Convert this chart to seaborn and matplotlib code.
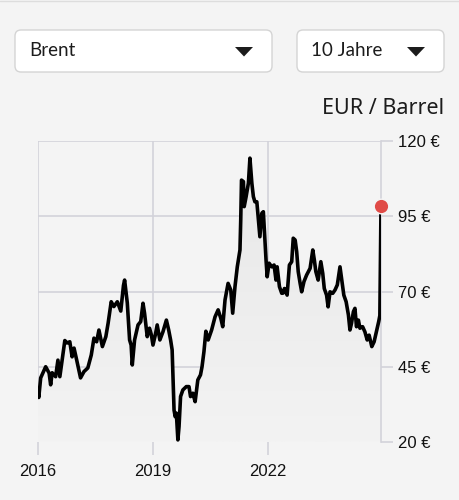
import numpy as np
import pandas as pd
import matplotlib
matplotlib.use("Agg")
import matplotlib.pyplot as plt
import seaborn as sns
from matplotlib.patches import FancyBboxPatch, Polygon
from matplotlib.colors import LinearSegmentedColormap

# ---- data (EUR per barrel, Brent) ----
years = [2016.00, 2016.02, 2016.07, 2016.20, 2016.29, 2016.33, 2016.37, 2016.46, 2016.52, 2016.57,
         2016.63, 2016.70, 2016.76, 2016.83, 2016.89, 2016.94, 2017.01, 2017.11, 2017.20, 2017.30,
         2017.39, 2017.46, 2017.53, 2017.59, 2017.68, 2017.77, 2017.83, 2017.91, 2017.98, 2018.07,
         2018.16, 2018.23, 2018.26, 2018.33, 2018.39, 2018.43, 2018.46, 2018.52, 2018.61, 2018.68,
         2018.74, 2018.78, 2018.85, 2018.91, 2018.96, 2019.00, 2019.06, 2019.11, 2019.18, 2019.26,
         2019.35, 2019.41, 2019.46, 2019.50, 2019.55, 2019.58, 2019.61, 2019.65, 2019.68, 2019.72,
         2019.78, 2019.87, 2019.94, 2019.98, 2020.04, 2020.10, 2020.17, 2020.24, 2020.28, 2020.33,
         2020.38, 2020.44, 2020.53, 2020.62, 2020.70, 2020.77, 2020.82, 2020.88, 2020.96, 2021.03,
         2021.08, 2021.14, 2021.20, 2021.27, 2021.29, 2021.31, 2021.36, 2021.38, 2021.43, 2021.49,
         2021.53, 2021.58, 2021.62, 2021.66, 2021.71, 2021.75, 2021.79, 2021.84, 2021.88, 2021.92,
         2021.95, 2021.98, 2022.03, 2022.10, 2022.16, 2022.21, 2022.24, 2022.30, 2022.36, 2022.40,
         2022.43, 2022.47, 2022.50, 2022.56, 2022.62, 2022.66, 2022.71, 2022.75, 2022.79, 2022.84,
         2022.88, 2022.94, 2023.01, 2023.10, 2023.17, 2023.21, 2023.25, 2023.31, 2023.38, 2023.43,
         2023.47, 2023.53, 2023.57, 2023.62, 2023.69, 2023.75, 2023.81, 2023.88, 2023.92, 2023.98,
         2024.04, 2024.10, 2024.14, 2024.18, 2024.23, 2024.27, 2024.31, 2024.36, 2024.40, 2024.47,
         2024.53, 2024.59, 2024.64, 2024.71, 2024.77, 2024.82, 2024.86, 2024.89, 2024.92, 2024.95]
prices = [36.5, 34.8, 41.3, 45.0, 42.9, 39.0, 43.0, 41.7, 47.2, 41.7,
          47.2, 53.7, 52.9, 53.3, 48.3, 51.2, 47.2, 41.3, 43.4, 44.6,
          48.9, 54.5, 53.3, 57.2, 51.7, 55.0, 59.5, 66.6, 65.0, 66.6,
          63.5, 72.0, 73.8, 66.2, 53.9, 52.2, 45.6, 53.9, 58.9, 60.0,
          66.1, 62.8, 55.0, 57.8, 55.5, 52.2, 55.5, 58.9, 53.9, 56.6,
          60.5, 57.2, 53.9, 50.6, 30.6, 28.4, 29.6, 20.7, 25.1, 35.1,
          37.3, 38.4, 38.4, 35.1, 36.2, 33.4, 40.6, 42.3, 45.0, 50.0,
          56.8, 53.9, 57.2, 61.6, 63.9, 61.1, 58.3, 67.2, 72.7, 70.5,
          62.8, 71.6, 78.2, 83.8, 93.8, 107.0, 106.5, 98.2, 101.5, 106.0,
          114.3, 106.0, 101.5, 99.8, 99.8, 93.8, 88.2, 96.0, 96.5, 87.1,
          80.5, 74.9, 79.4, 78.2, 78.8, 73.8, 78.2, 71.6, 69.4, 69.5,
          71.0, 70.5, 68.8, 78.8, 79.9, 87.7, 87.1, 83.2, 76.6, 72.7,
          69.9, 73.3, 75.5, 77.7, 83.8, 80.5, 76.6, 73.8, 79.9, 76.0,
          71.0, 68.8, 64.9, 69.9, 69.4, 70.5, 72.2, 78.2, 74.4, 68.8,
          66.6, 62.2, 57.2, 59.4, 63.3, 64.4, 58.3, 60.5, 57.8, 58.3,
          56.6, 53.9, 55.5, 51.7, 53.3, 56.1, 58.3, 60.0, 62.0, 98.4]
x_ticks = [2016, 2019, 2022]
x_labels = ["2016", "2019", "2022"]
y_ticks = [20, 45, 70, 95, 120]
y_labels = ["20 €", "45 €", "70 €", "95 €", "120 €"]
unit_label = "EUR / Barrel"
select_left = "Brent"
select_right = "10 Jahre"

df = pd.DataFrame({"year": years, "price": prices})

BG = "#f4f4f4"
GRID = "#d3d3da"

sns.set_theme(style="white")
plt.rcParams["font.family"] = ["Liberation Sans", "DejaVu Sans"]

fig = plt.figure(figsize=(4.59, 5.0), dpi=100, facecolor=BG)
ax = fig.add_axes([38 / 459, 1 - 442 / 500, (381 - 38) / 459, (442 - 141) / 500])
ax.set_facecolor(BG)

x_end = years[-1]
ax.set_xlim(years[0], x_end)
ax.set_ylim(20, 120)

# gradient fill under the line
poly = ax.fill_between(df["year"], df["price"], 20, color="none", lw=0)
grad = np.linspace(0, 1, 256).reshape(-1, 1)
cmap = LinearSegmentedColormap.from_list("g", ["#f3f3f3", "#e7e7e7"])
im = ax.imshow(grad, extent=[years[0], x_end, 20, 120], origin="lower",
               cmap=cmap, aspect="auto", zorder=1)
path = poly.get_paths()[0]
im.set_clip_path(path, transform=ax.transData)

sns.lineplot(data=df, x="year", y="price", ax=ax, color="black", lw=2.6,
             zorder=4, solid_joinstyle="round")
ax.plot([years[-1]], [prices[-1]], "o", ms=10.5, color="#e04b47",
        mec="#f4f4f4", mew=1.0, zorder=5, clip_on=False)

ax.set_xticks(x_ticks)
ax.set_xticklabels(x_labels)
ax.set_yticks(y_ticks)
ax.set_yticklabels(y_labels)
ax.set_xlabel("")
ax.set_ylabel("")
ax.yaxis.tick_right()
ax.grid(True, color=GRID, lw=1.2, zorder=0)
ax.set_axisbelow(True)
for s in ["top", "left", "bottom"]:
    ax.spines[s].set_visible(False)
ax.spines["right"].set_color(GRID)
ax.spines["right"].set_linewidth(1.2)
ax.tick_params(axis="y", which="both", right=True, left=False, length=8.5, width=1.2,
               color=GRID, pad=3.5, labelsize=12, labelcolor="#111111")
ax.tick_params(axis="x", which="both", bottom=True, length=9.5, width=1.2,
               color=GRID, pad=6, labelsize=12, labelcolor="#111111")

# UI overlay (pixel coordinates)
ov = fig.add_axes([0, 0, 1, 1], facecolor="none")
ov.set_xlim(0, 459)
ov.set_ylim(500, 0)
ov.axis("off")
ov.plot([0, 459], [0.5, 0.5], color="#dddddd", lw=1)
for (x0, x1, label, tx, tri) in [(15, 272, select_left, 29, 244), (297, 444, select_right, 311, 416)]:
    box = FancyBboxPatch((x0, 30), x1 - x0, 42, boxstyle="round,pad=0,rounding_size=6",
                         fc="white", ec="#d4d4d4", lw=1.0)
    ov.add_patch(box)
    ov.text(tx, 51, label, fontsize=13.5, family=["Lato", "DejaVu Sans"], color="#1c1c1c",
            va="center", ha="left")
    ov.add_patch(Polygon([(tri - 9, 47), (tri + 9, 47), (tri, 56.5)], closed=True,
                         fc="#1c1c1c", ec="none"))
ov.text(444, 108, unit_label, fontsize=15.5, family=["Noto Sans", "DejaVu Sans"],
        color="#1c1c1c", ha="right", va="center")

fig.savefig("out.png", dpi=100, facecolor=BG)
